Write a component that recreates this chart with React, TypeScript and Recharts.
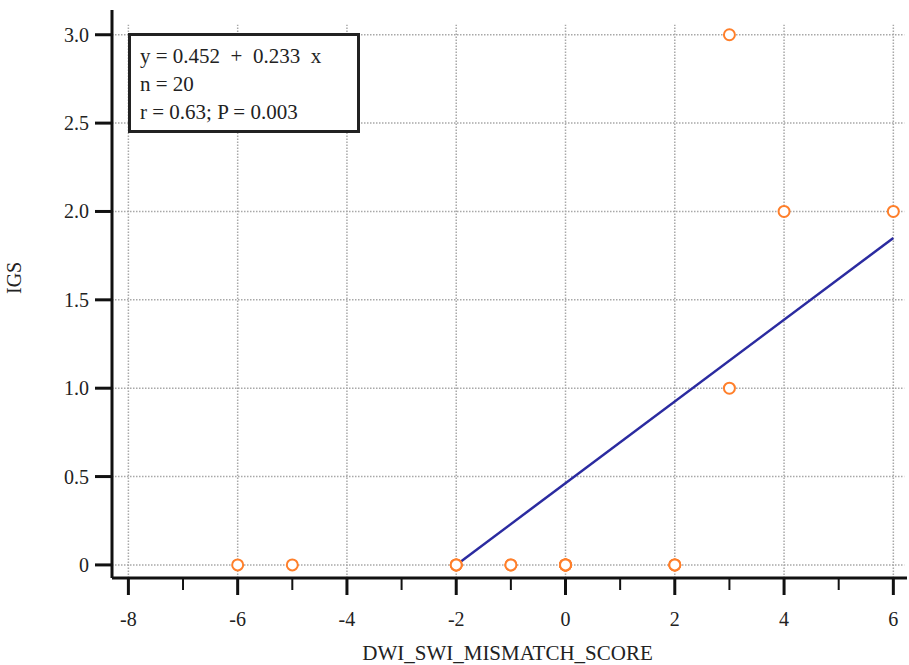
import React from 'react';
import { ScatterChart, Scatter, XAxis, YAxis, ReferenceLine } from 'recharts';

const pointsX = [-6, -5, -2, -2, -1, 0, 0, 0, 0, 0, 0, 2, 2, 2, 3, 3, 4, 6, -2, -1];
const pointsY = [0, 0, 0, 0, 0, 0, 0, 0, 0, 0, 0, 0, 0, 0, 1, 3, 2, 2, 0, 0];
const fitX = [-2, 6];
const fitY = [0, 1.85];
const xTicks = [-8, -7, -6, -5, -4, -3, -2, -1, 0, 1, 2, 3, 4, 5, 6];
const xMajor = [-8, -6, -4, -2, 0, 2, 4, 6];
const yTicks = [0, 0.5, 1, 1.5, 2, 2.5, 3];
const yLabels = ['0', '0.5', '1.0', '1.5', '2.0', '2.5', '3.0'];
const statLines = ['y = 0.452  +  0.233  x', 'n = 20', 'r = 0.63; P = 0.003'];

const points = pointsX.map((x, i) => ({ x, y: pointsY[i] }));
const fitLine = fitX.map((x, i) => ({ x, y: fitY[i] }));

const FONT = '"Liberation Serif", "Times New Roman", serif';
const X_MIN = -8.3;
const X_MAX = 6.25;
const Y_MIN = -0.074;
const Y_MAX = 3.14;
const GRID_TOP = 3.056;
const GRID_RIGHT = 6.2;

const XTick = (props: any) => {
  const { x, y, payload } = props;
  const v = payload.value;
  const major = xMajor.includes(v);
  return (
    <g>
      <line x1={x} x2={x} y1={y} y2={y + (major ? 17 : 12)} stroke="#111" strokeWidth={major ? 3 : 2} />
      {major && (
        <text x={x} y={y + 48} textAnchor="middle" fontFamily={FONT} fontSize={20} fill="#222">
          {String(v)}
        </text>
      )}
    </g>
  );
};

const YTick = (props: any) => {
  const { x, y, payload } = props;
  const idx = yTicks.indexOf(payload.value);
  return (
    <g>
      <line x1={x - 17} x2={x} y1={y} y2={y} stroke="#111" strokeWidth={3} />
      <text x={x - 23} y={y + 7} textAnchor="end" fontFamily={FONT} fontSize={20} fill="#222">
        {idx >= 0 ? yLabels[idx] : ''}
      </text>
    </g>
  );
};

const Dot = (props: any) => {
  const { cx, cy } = props;
  return <circle cx={cx} cy={cy} r={5.5} fill="#fff" stroke="#ff7f2a" strokeWidth={2} />;
};

const NoDot = () => <g />;

const gridStyle = { stroke: '#a8a8a8', strokeWidth: 1.5, strokeDasharray: '1.5 1.5' };

export default function App() {
  return (
    <div style={{ position: 'absolute', left: 0, top: 0, width: 909, height: 665, background: '#fff', overflow: 'hidden' }}>
      <ScatterChart width={909} height={665} margin={{ top: 10, right: 2, bottom: 0, left: 0 }}>
        {yTicks.map((v) => (
          <ReferenceLine key={'h' + v} segment={[{ x: X_MIN, y: v }, { x: GRID_RIGHT, y: v }]} {...gridStyle} />
        ))}
        {xMajor.map((v) => (
          <ReferenceLine key={'v' + v} segment={[{ x: v, y: Y_MIN }, { x: v, y: GRID_TOP }]} {...gridStyle} />
        ))}
        <XAxis
          type="number"
          dataKey="x"
          domain={[X_MIN, X_MAX]}
          ticks={xTicks}
          interval={0}
          allowDataOverflow
          height={87}
          tickSize={0}
          tickMargin={0}
          tickLine={false}
          tick={<XTick />}
          axisLine={{ stroke: '#111', strokeWidth: 3 }}
          label={{ value: 'DWI_SWI_MISMATCH_SCORE', position: 'insideBottom', offset: 5, fontFamily: FONT, fontSize: 21, fill: '#222', dx: -2 }}
        />
        <YAxis
          type="number"
          dataKey="y"
          domain={[Y_MIN, Y_MAX]}
          ticks={yTicks}
          interval={0}
          allowDataOverflow
          width={112}
          tickSize={0}
          tickMargin={0}
          tickLine={false}
          tick={<YTick />}
          axisLine={{ stroke: '#111', strokeWidth: 3 }}
          label={{ value: 'IGS', angle: -90, position: 'insideLeft', offset: 14, fontFamily: FONT, fontSize: 20, fill: '#222' }}
        />
        <Scatter
          data={fitLine}
          line={{ stroke: '#2b2ba0', strokeWidth: 2.5 }}
          shape={<NoDot />}
          isAnimationActive={false}
        />
        <Scatter data={points} shape={<Dot />} isAnimationActive={false} />
      </ScatterChart>
      <div
        style={{
          position: 'absolute',
          left: 128,
          top: 33,
          width: 232,
          height: 100,
          border: '3px solid #222',
          background: '#fff',
          fontFamily: FONT,
          fontSize: 21,
          color: '#222',
          paddingLeft: 9,
          boxSizing: 'border-box',
          paddingTop: 6,
          lineHeight: '28px',
          whiteSpace: 'pre',
        }}
      >
        {statLines.map((s) => (
          <div key={s}>{s}</div>
        ))}
      </div>
    </div>
  );
}
